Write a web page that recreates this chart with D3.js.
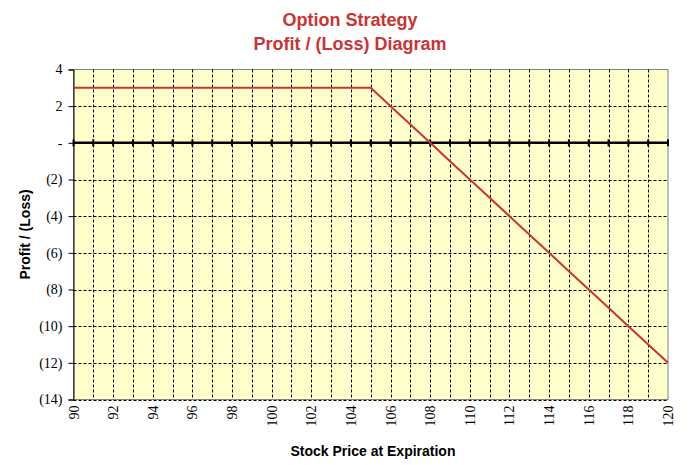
<!DOCTYPE html>
<html><head><meta charset="utf-8">
<script src="https://cdn.jsdelivr.net/npm/d3@7"></script>
<style>body{margin:0;background:#fff;} svg{display:block;}</style>
</head><body>
<script>
const prices = [90,91,92,93,94,95,96,97,98,99,100,101,102,103,104,105,106,107,108,109,110,111,112,113,114,115,116,117,118,119,120];
const profits = [3,3,3,3,3,3,3,3,3,3,3,3,3,3,3,3,2,1,0,-1,-2,-3,-4,-5,-6,-7,-8,-9,-10,-11,-12];
const yTicks = [4,2,0,-2,-4,-6,-8,-10,-12,-14];
const xTicks = [90,92,94,96,98,100,102,104,106,108,110,112,114,116,118,120];
const titleLines = ["Option Strategy","Profit / (Loss) Diagram"];
const xTitle = "Stock Price at Expiration";
const yTitle = "Profit / (Loss)";

const W=693,H=465;
const m={l:73.5,r:668,t:69.5,b:399.5};
const svg=d3.select("body").append("svg").attr("width",W).attr("height",H);
const x=d3.scaleLinear().domain([90,120]).range([m.l,m.r]);
const y=d3.scaleLinear().domain([-14,4]).range([m.b,m.t]);
const red="#CC3333";
const serif="'Liberation Serif','Times New Roman',serif";
const sans="'Liberation Sans',Arial,sans-serif";

svg.append("rect").attr("x",m.l).attr("y",m.t).attr("width",m.r-m.l).attr("height",m.b-m.t).attr("fill","#FFFFCC").attr("stroke","#808080").attr("stroke-width",1);

// vertical grid
svg.append("g").selectAll("line").data(prices.slice(1,-1)).join("line")
 .attr("x1",d=>Math.round(x(d))+0.5).attr("x2",d=>Math.round(x(d))+0.5).attr("y1",m.t).attr("y2",m.b)
 .attr("stroke","#000").attr("stroke-width",1).attr("stroke-dasharray","3,2");
// horizontal grid
svg.append("g").selectAll("line").data(yTicks.filter(d=>d!==4&&d!==0)).join("line")
 .attr("x1",m.l).attr("x2",m.r).attr("y1",d=>Math.round(y(d))+0.5).attr("y2",d=>Math.round(y(d))+0.5)
 .attr("stroke","#000").attr("stroke-width",1).attr("stroke-dasharray","3,2");

// left axis
const ya=d3.axisLeft(y).tickValues(yTicks).tickSize(5).tickPadding(6)
 .tickFormat(d=>d===0?"-":(d<0?"("+(-d)+")":String(d)));
const gy=svg.append("g").attr("transform",`translate(${m.l},0)`).call(ya);
gy.select(".domain").attr("stroke","#000");
gy.selectAll(".tick line").attr("stroke","#000");
gy.selectAll("text").attr("font-family",serif).attr("font-size",14).attr("fill","#000");

// zero line with ticks
svg.append("line").attr("x1",m.l).attr("x2",m.r).attr("y1",y(0)).attr("y2",y(0)).attr("stroke","#000").attr("stroke-width",2.5);
svg.append("g").selectAll("line").data(prices).join("line")
 .attr("x1",d=>x(d)).attr("x2",d=>x(d)).attr("y1",y(0)-3.5).attr("y2",y(0)+3.5)
 .attr("stroke","#000").attr("stroke-width",2);

// x tick labels
svg.append("g").selectAll("text").data(xTicks).join("text")
 .attr("transform",d=>`translate(${x(d)+5},${m.b+6}) rotate(-90)`)
 .attr("text-anchor","end")
 .attr("font-family",serif).attr("font-size",14).attr("fill","#000")
 .text(d=>d);

// profit line
svg.append("path").datum(prices.map((p,i)=>[p,profits[i]]))
 .attr("d",d3.line().x(d=>x(d[0])).y(d=>y(d[1])))
 .attr("fill","none").attr("stroke",red).attr("stroke-width",2);

// titles
svg.append("g").selectAll("text").data(titleLines).join("text")
 .attr("x",350).attr("y",(d,i)=>26+i*24).attr("text-anchor","middle")
 .attr("font-family",sans).attr("font-weight","bold").attr("font-size",18).attr("fill",red)
 .text(d=>d);
svg.append("text").attr("x",373).attr("y",456).attr("text-anchor","middle")
 .attr("font-family",sans).attr("font-weight","bold").attr("font-size",14).text(xTitle);
svg.append("text").attr("transform",`translate(30,${(m.t+m.b)/2}) rotate(-90)`).attr("text-anchor","middle")
 .attr("font-family",sans).attr("font-weight","bold").attr("font-size",14).text(yTitle);
</script>
</body></html>
